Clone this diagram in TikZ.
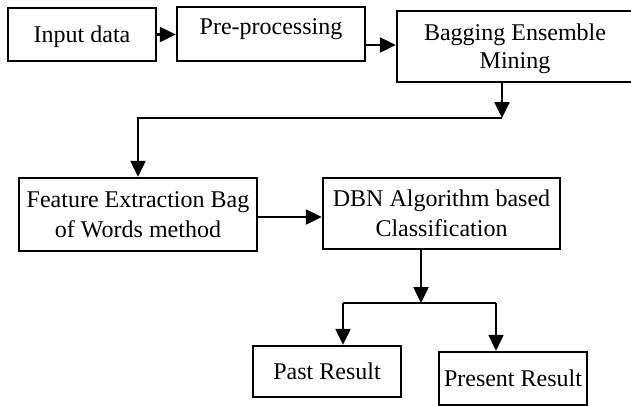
\documentclass[tikz,border=0pt]{standalone}
\usepackage{fontspec}
\setmainfont{Liberation Serif}
\usetikzlibrary{arrows.meta}
\begin{document}
\begin{tikzpicture}[x=1pt,y=-1pt,
  box/.style={draw, line width=2.5pt, rectangle, align=center, inner sep=0pt,
    font=\fontsize{24}{29}\selectfont},
  oneline/.style={text height=17pt, text depth=1.2pt},
  link/.style={line width=2.5pt},
  arr/.style={link, -{Triangle[length=16pt,width=15pt]}},
]
\useasboundingbox (0,0) rectangle (631,405);

% process boxes
\node[box, oneline, minimum width=148pt, minimum height=53pt] (input) at (82,34.5) {Input data};
\node[box, text height=10pt, text depth=9pt, minimum width=188pt, minimum height=54pt] (pre) at (271,34) {Pre-processing};
\node[box, font=\fontsize{24}{28}\selectfont, minimum width=236pt, minimum height=71pt] (bag) at (515,46.5) {\rule{0pt}{21pt}Bagging Ensemble\\Mining};
\node[box, font=\fontsize{24}{30}\selectfont, minimum width=238pt, minimum height=73pt] (feat) at (138,214.5) {Feature Extraction Bag\\of Words method};
\node[box, font=\fontsize{24}{30}\selectfont, minimum width=237pt, minimum height=71pt] (dbn) at (441.5,213.5) {DBN Algorithm based\\Classification};
\node[box, oneline, minimum width=148pt, minimum height=51pt] (past) at (327,371.5) {Past Result};
\node[box, oneline, minimum width=148pt, minimum height=53pt] (pres) at (513,378.5) {Present Result};

% junction points of the connectors
\coordinate (j1) at (502,118);
\coordinate (j2) at (421,303);
\coordinate (jl) at (343,303);
\coordinate (jr) at (496,303);

% connectors
\draw[arr] (input.east) -- (input.east -| pre.west);
\draw[arr] ([yshift=-11pt]pre.east) -- ([yshift=-11pt]pre.east -| bag.west);
\draw[arr] (bag.south -| j1) -- (j1);
\draw[arr] (j1) -| (feat.north);
\draw[arr] ([yshift=-2.5pt]feat.east) -- ([yshift=-2.5pt]feat.east -| dbn.west);
\draw[arr] (dbn.south -| j2) -- (j2);
\draw[link] (jl) -- (jr);
\draw[arr] (jl) -- (jl |- past.north);
\draw[arr] (jr) -- (jr |- pres.north);
\end{tikzpicture}
\end{document}
